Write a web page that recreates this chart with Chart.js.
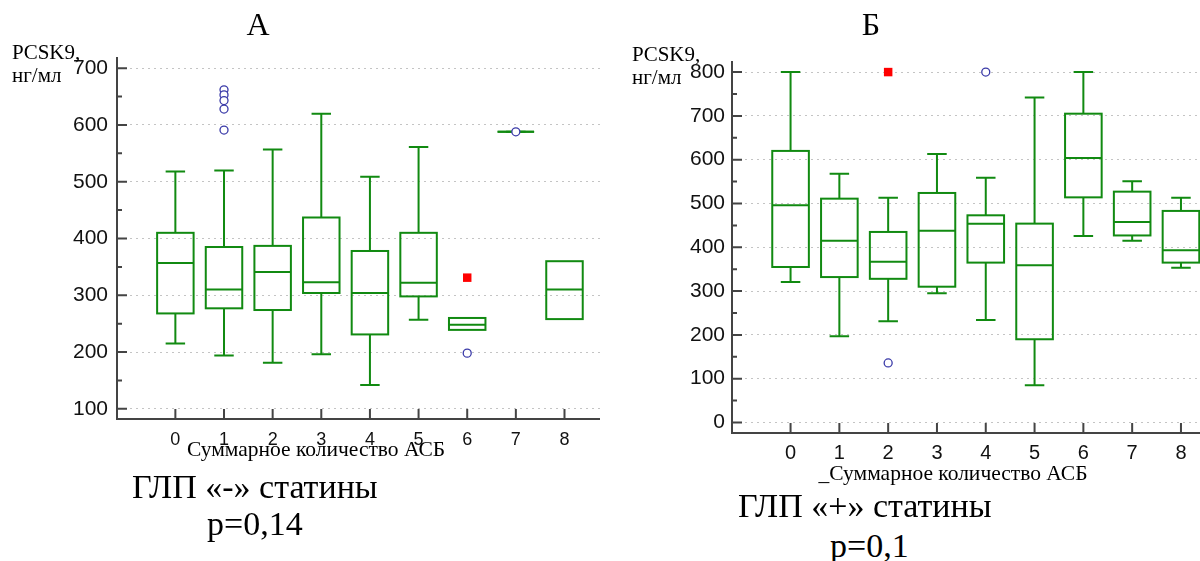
<!DOCTYPE html>
<html>
<head>
<meta charset="utf-8">
<script src="https://cdn.jsdelivr.net/npm/chart.js@4.4.1/dist/chart.umd.min.js"></script>
<style>
  html, body { margin: 0; padding: 0; background: #fff; }
  #wrap { position: relative; width: 1200px; height: 561px; overflow: hidden; background: #fff; }
  canvas { position: absolute; top: 0; }
  .t { position: absolute; font-family: "Liberation Serif", "Times New Roman", serif; color: #000; line-height: 1; white-space: nowrap; }
  .c { transform: translateX(-50%); }
</style>
</head>
<body>
<div id="wrap">
  <canvas id="chartA" width="600" height="470" style="left:0"></canvas>
  <canvas id="chartB" width="600" height="480" style="left:600px"></canvas>

  <div class="t c" style="left:258px; top:8px; font-size:32px">А</div>
  <div class="t c" style="left:871px; top:8px; font-size:32px">Б</div>

  <div class="t" style="left:12px; top:42px; font-size:21px">PCSK9,</div>
  <div class="t" style="left:12px; top:65px; font-size:21px">нг/мл</div>
  <div class="t" style="left:632px; top:44px; font-size:21px">PCSK9,</div>
  <div class="t" style="left:632px; top:67px; font-size:21px">нг/мл</div>

  <div class="t c" style="left:316px; top:439px; font-size:21.5px">Суммарное количество АСБ</div>
  <div class="t c" style="left:953px; top:463px; font-size:21.5px">_Суммарное количество АСБ</div>

  <div class="t" style="left:132px; top:470px; font-size:34px">ГЛП «-» статины</div>
  <div class="t" style="left:207px; top:507px; font-size:34px">p=0,14</div>
  <div class="t" style="left:738px; top:489px; font-size:34px">ГЛП «+» статины</div>
  <div class="t" style="left:830px; top:529px; font-size:34px">p=0,1</div>
</div>

<script>
  // categories (total number of plaques)
  const cats = [0, 1, 2, 3, 4, 5, 6, 7, 8];

  // ---- panel A: statins "-" ----
  const lowA  = [215, 194, 181, 196, 142, 257, null, 588, null];
  const q1A   = [268, 277, 274, 304, 231, 298, 239, 588, 258];
  const medA  = [357, 310, 341, 323, 304, 322, 248, 588, 310];
  const q3A   = [410, 385, 387, 437, 378, 410, 260, 588, 360];
  const highA = [518, 520, 557, 620, 509, 561, null, 588, null];
  const outXA = [1, 1, 1, 1, 1, 6, 7];
  const outYA = [662, 653, 643, 628, 591, 198, 588];
  const farXA = [6];
  const farYA = [331];
  const yTicksA = [100, 200, 300, 400, 500, 600, 700];

  // ---- panel B: statins "+" ----
  const lowB  = [321, 197, 231, 295, 234, 85, 426, 415, 353];
  const q1B   = [355, 332, 328, 310, 365, 190, 514, 427, 365];
  const medB  = [496, 415, 367, 438, 454, 359, 604, 458, 393];
  const q3B   = [620, 511, 435, 524, 473, 454, 705, 527, 483];
  const highB = [800, 568, 513, 613, 559, 742, 800, 551, 513];
  const outXB = [2, 4];
  const outYB = [136, 800];
  const farXB = [2];
  const farYB = [800];
  const yTicksB = [0, 100, 200, 300, 400, 500, 600, 700, 800];

  const GREEN = "#118a11";
  const AXIS = "#444";

  // box + whisker drawing through the chart scales
  const boxPlugin = {
    id: "boxes",
    beforeDatasetsDraw(chart, args, o) {
      const { ctx } = chart;
      const x = chart.scales.x, y = chart.scales.y;
      ctx.save();
      ctx.strokeStyle = GREEN;
      ctx.lineWidth = 2;
      o.cats.forEach(function (c, i) {
        const xl = x.getPixelForValue(c - 0.375);
        const xr = x.getPixelForValue(c + 0.375);
        const cl = x.getPixelForValue(c - 0.2);
        const cr = x.getPixelForValue(c + 0.2);
        const xm = x.getPixelForValue(c);
        const yq1 = y.getPixelForValue(o.q1[i]);
        const yq3 = y.getPixelForValue(o.q3[i]);
        const ymd = y.getPixelForValue(o.med[i]);
        ctx.beginPath();
        if (o.high[i] != null) {
          const yh = y.getPixelForValue(o.high[i]);
          ctx.moveTo(xm, yq3); ctx.lineTo(xm, yh);
          ctx.moveTo(cl, yh); ctx.lineTo(cr, yh);
        }
        if (o.low[i] != null) {
          const yl = y.getPixelForValue(o.low[i]);
          ctx.moveTo(xm, yq1); ctx.lineTo(xm, yl);
          ctx.moveTo(cl, yl); ctx.lineTo(cr, yl);
        }
        ctx.stroke();
        ctx.strokeRect(xl, yq3, xr - xl, yq1 - yq3);
        ctx.beginPath();
        ctx.moveTo(xl, ymd); ctx.lineTo(xr, ymd);
        ctx.stroke();
      });
      ctx.restore();
    },
    afterDraw(chart, args, o) {
      // inward tick marks
      const { ctx } = chart;
      const x = chart.scales.x, y = chart.scales.y;
      const area = chart.chartArea;
      ctx.save();
      ctx.strokeStyle = AXIS;
      ctx.lineWidth = 2;
      ctx.beginPath();
      o.yTicks.forEach(function (v, i) {
        const py = y.getPixelForValue(v);
        ctx.moveTo(area.left, py); ctx.lineTo(area.left + 10, py);
        if (i > 0) {
          const pm = y.getPixelForValue((v + o.yTicks[i - 1]) / 2);
          ctx.moveTo(area.left, pm); ctx.lineTo(area.left + 5, pm);
        }
      });
      o.cats.forEach(function (c) {
        const px = x.getPixelForValue(c);
        ctx.moveTo(px, area.bottom); ctx.lineTo(px, area.bottom - 10);
      });
      ctx.stroke();
      ctx.restore();
    }
  };

  function points(xs, ys) {
    return xs.map(function (v, i) { return { x: v, y: ys[i] }; });
  }

  function makeChart(id, cfg) {
    return new Chart(document.getElementById(id), {
      type: "scatter",
      data: {
        datasets: [
          {
            data: points(cfg.outX, cfg.outY),
            pointStyle: "circle",
            pointRadius: 4,
            pointBorderWidth: 1.3,
            pointBorderColor: "#3a3aa8",
            pointBackgroundColor: "#fff"
          },
          {
            data: points(cfg.farX, cfg.farY),
            pointStyle: "rect",
            pointRadius: 6,
            pointBorderWidth: 0,
            pointBackgroundColor: "#ff0000"
          }
        ]
      },
      options: {
        responsive: false,
        animation: false,
        layout: { autoPadding: false, padding: { top: cfg.padTop, left: 0, right: 0, bottom: 0 } },
        plugins: {
          legend: { display: false },
          tooltip: { enabled: false },
          boxes: {
            cats: cats, low: cfg.low, q1: cfg.q1, med: cfg.med, q3: cfg.q3,
            high: cfg.high, yTicks: cfg.yTicks
          }
        },
        scales: {
          x: {
            type: "linear",
            min: -1.2,
            max: cfg.xMax,
            afterBuildTicks: function (s) { s.ticks = cats.map(function (v) { return { value: v }; }); },
            afterFit: function (s) {
              s.height = cfg.xAxisH;
              s.paddingLeft = 0;
              s.paddingRight = 0;
            },
            grid: { display: false },
            border: { display: true, color: AXIS, width: 2 },
            ticks: {
              padding: cfg.xPad,
              maxRotation: 0,
              color: "#111",
              font: { family: "'Liberation Sans', Arial, sans-serif", size: cfg.xFont }
            }
          },
          y: {
            min: cfg.yMin,
            max: cfg.yMax,
            afterBuildTicks: function (s) { s.ticks = cfg.yTicks.map(function (v) { return { value: v }; }); },
            afterFit: function (s) { s.width = cfg.yAxisW; },
            grid: { drawTicks: false, color: "#c4c4c4", lineWidth: 1 },
            border: { display: true, color: AXIS, width: 2, dash: [2, 4] },
            ticks: {
              padding: cfg.yPad,
              color: "#111",
              font: { family: "'Liberation Sans', Arial, sans-serif", size: 21 }
            }
          }
        }
      },
      plugins: [boxPlugin]
    });
  }

  makeChart("chartA", {
    low: lowA, q1: q1A, med: medA, q3: q3A, high: highA,
    outX: outXA, outY: outYA, farX: farXA, farY: farYA, yTicks: yTicksA,
    yMin: 82, yMax: 718, xMax: 8.73, padTop: 58, yAxisW: 117, xAxisH: 51,
    xPad: 2, yPad: 9, xFont: 18
  });

  makeChart("chartB", {
    low: lowB, q1: q1B, med: medB, q3: q3B, high: highB,
    outX: outXB, outY: outYB, farX: farXB, farY: farYB, yTicks: yTicksB,
    yMin: -24, yMax: 823, xMax: 8.39, padTop: 62, yAxisW: 132, xAxisH: 47,
    xPad: 0, yPad: 7, xFont: 20
  });
</script>
</body>
</html>
